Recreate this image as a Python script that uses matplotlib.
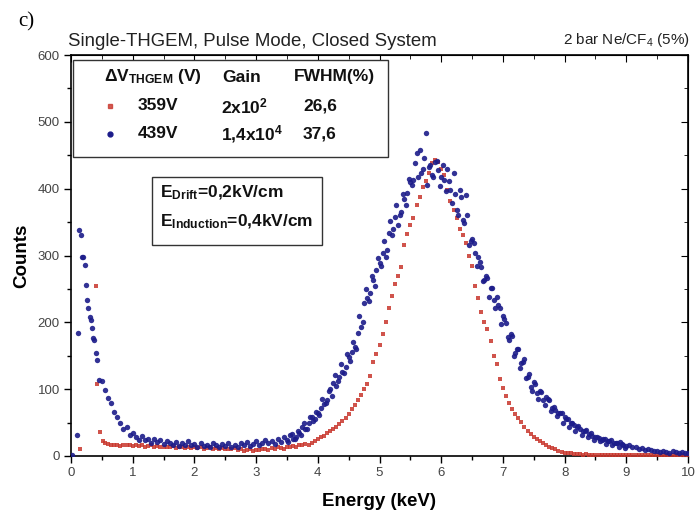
import numpy as np
import matplotlib
matplotlib.use('Agg')
import matplotlib.pyplot as plt
from matplotlib.patches import Rectangle
from matplotlib.ticker import MultipleLocator

plt.rcParams['font.family'] = ['Liberation Sans', 'DejaVu Sans']
plt.rcParams['mathtext.default'] = 'regular'

# ---- data ----
# 359 V, isolated points below 0.55 keV
red_low_e = [0.15, 0.40, 0.42, 0.47, 0.52]
red_low_c = [10, 254, 108, 36, 22]
# 359 V, 0.05 keV bins starting at 0.55 keV
red_start = 0.55
red_counts = [
    20, 18, 17, 16, 17, 15, 16, 17, 16, 15,
    16, 15, 17, 14, 15, 16, 14, 15, 13, 14,
    14, 13, 15, 12, 14, 13, 12, 14, 12, 13,
    12, 13, 11, 12, 13, 11, 12, 10, 12, 11,
    11, 10, 12, 9, 10, 8, 9, 10, 8, 9,
    9, 10, 11, 9, 12, 10, 13, 12, 11, 14,
    13, 15, 14, 17, 16, 18, 17, 20, 22, 25,
    28, 30, 34, 37, 40, 44, 48, 52, 57, 63,
    70, 76, 84, 92, 100, 108, 120, 140, 152, 166,
    183, 200, 222, 240, 258, 270, 283, 316, 332, 345,
    356, 375, 388, 402, 412, 424, 438, 443, 440, 430,
    420, 398, 382, 368, 356, 340, 331, 318, 300, 285,
    255, 236, 215, 200, 190, 172, 150, 138, 115, 102,
    90, 80, 70, 63, 57, 51, 44, 37, 33, 29,
    26, 22, 19, 16, 14, 12, 10, 8, 6, 5,
    4, 4, 3, 3, 3, 2, 3, 2, 2, 2,
    2, 2, 1, 2, 1, 2, 1, 1, 2, 1,
    1, 2, 1, 1, 1, 2, 1, 1, 1, 1,
    1, 1, 2, 1, 1, 1, 1, 1, 1, 1,
]

# 439 V, isolated points below 0.45 keV
blue_low_e = [0.02, 0.10, 0.11, 0.13, 0.16, 0.18, 0.20, 0.22, 0.24, 0.26,
              0.28, 0.30, 0.32, 0.34, 0.36, 0.38, 0.40, 0.42]
blue_low_c = [2, 31, 184, 338, 330, 298, 298, 286, 256, 234,
              221, 208, 204, 192, 177, 174, 154, 144]
# 439 V, 0.05 keV bins starting at 0.45 keV
blue_start = 0.45
blue_counts = [
    114, 112, 99, 87, 79, 66, 58, 49, 40, 43,
    31, 35, 28, 24, 30, 24, 26, 20, 25, 21,
    24, 18, 22, 19, 16, 21, 15, 19, 17, 22,
    16, 18, 14, 20, 15, 17, 13, 19, 16, 14,
    18, 15, 20, 14, 17, 13, 19, 16, 21, 15,
    18, 22, 16, 20, 24, 19, 23, 18, 26, 21,
    28, 24, 31, 26, 28, 35, 43, 40, 50, 58,
    55, 64, 72, 78, 84, 100, 109, 105, 118, 125,
    133, 148, 155, 163, 184, 193, 229, 236, 244, 263,
    278, 289, 304, 298, 334, 330, 358, 345, 365, 385,
    394, 410, 413, 454, 458, 430, 484, 433, 420, 440,
    428, 418, 413, 430, 398, 424, 368, 398, 353, 391,
    316, 325, 304, 298, 283, 263, 266, 251, 234, 238,
    221, 210, 199, 174, 180, 154, 160, 139, 145, 118,
    103, 110, 94, 98, 84, 88, 84, 72, 69, 64,
    64, 58, 55, 49, 46, 43, 40, 38, 39, 33,
    30, 28, 27, 24, 26, 22, 24, 20, 19, 21,
    17, 15, 16, 13, 14, 11, 12, 9, 10, 9,
    8, 7, 6, 8, 6, 5, 7, 6, 5, 6, 5, 4,
]
# 439 V, in-between bins from 3.525 keV (the blue data is twice as dense)
blue_mid_start = 3.525
blue_mid_counts = [
    21, 33, 25, 38, 32, 49, 41, 58, 52, 66,
    61, 86, 80, 98, 90, 121, 112, 137, 124, 152,
    142, 171, 160, 210, 200, 250, 232, 270, 255, 296,
    284, 322, 308, 352, 340, 375, 360, 392, 376, 415,
    405, 438, 418, 424, 446, 406, 436, 418, 442, 404,
    436, 396, 412, 378, 392, 360, 388, 348, 360, 322,
    318, 284, 290, 262, 270, 238, 252, 222, 226, 198,
    205, 178, 182, 150, 160, 132, 140, 116, 122, 98,
    108, 86, 96, 76, 86, 68, 74, 60, 64, 50,
    56, 44, 50, 38, 45, 32, 38, 28, 34, 24,
    29, 22, 26, 18, 23, 16, 20, 14, 18, 12,
]

red_e = list(red_low_e) + list(red_start + 0.05 * np.arange(len(red_counts)))
red_c = list(red_low_c) + red_counts
blue_e = (list(blue_low_e) + list(blue_start + 0.05 * np.arange(len(blue_counts)))
          + list(blue_mid_start + 0.05 * np.arange(len(blue_mid_counts))))
blue_c = list(blue_low_c) + blue_counts + blue_mid_counts

red_col = '#c8362c'
blue_col = '#1c1c8a'

fig = plt.figure(figsize=(6.96, 5.13), dpi=100)
fig.patch.set_facecolor('white')
ax = fig.add_axes([71 / 696, 1 - 456 / 513, 617 / 696, 401 / 513])

ax.scatter(red_e, red_c, s=10, marker='s', color=red_col, linewidths=0, alpha=0.85, zorder=3)
ax.scatter(blue_e, blue_c, s=15, marker='o', color=blue_col, linewidths=0, alpha=0.9, zorder=4)

ax.set_xlim(0, 10)
ax.set_ylim(0, 600)
ax.xaxis.set_major_locator(MultipleLocator(1))
ax.xaxis.set_minor_locator(MultipleLocator(0.5))
ax.yaxis.set_major_locator(MultipleLocator(100))
ax.yaxis.set_minor_locator(MultipleLocator(50))
ax.tick_params(which='major', direction='out', length=5, width=1, labelsize=9.5,
               labelcolor='#444444', pad=3)
ax.tick_params(which='minor', direction='out', length=3, width=1)
for s in ax.spines.values():
    s.set_linewidth(1.2)

# mirrored inward ticks on top and right
top = ax.secondary_xaxis('top')
top.xaxis.set_major_locator(MultipleLocator(1))
top.xaxis.set_minor_locator(MultipleLocator(0.5))
top.tick_params(which='major', direction='in', length=5, labeltop=False)
top.tick_params(which='minor', direction='in', length=3)
right = ax.secondary_yaxis('right')
right.yaxis.set_major_locator(MultipleLocator(100))
right.yaxis.set_minor_locator(MultipleLocator(50))
right.tick_params(which='major', direction='in', length=5, labelright=False)
right.tick_params(which='minor', direction='in', length=3)

ax.set_xlabel('Energy (keV)', fontsize=13.5, fontweight='bold', labelpad=10)
ax.set_ylabel('Counts', fontsize=13.5, fontweight='bold', labelpad=5)

# titles
fig.text(18 / 696, 1 - 22 / 513, 'c)', fontsize=15, family='Liberation Serif',
         ha='left', va='center')
fig.text(68 / 696, 1 - 41 / 513, 'Single-THGEM, Pulse Mode, Closed System',
         fontsize=13.4, color='#222222', ha='left', va='center')
fig.text(690 / 696, 1 - 40 / 513, '2 bar Ne/CF$_4$ (5%)',
         fontsize=11, color='#222222', ha='right', va='center')


def px(x, y):
    return x / 696, 1 - y / 513


# legend table box
x0, y0 = px(73, 157)
x1, y1 = px(388, 60)
fig.add_artist(Rectangle((x0, y0), x1 - x0, y1 - y0, transform=fig.transFigure,
                         facecolor='white', edgecolor='#333333', linewidth=1.0, zorder=5))
tk = dict(fontsize=12.5, fontweight='bold', color='#111111', va='center', zorder=6)
fig.text(*px(104, 77), r'$\Delta$V$_{\mathregular{THGEM}}$ (V)', ha='left', **tk)
fig.text(*px(242, 77), 'Gain', ha='center', **tk)
fig.text(*px(334, 77), 'FWHM(%)', ha='center', **tk)
fig.text(*px(158, 106), '359V', ha='center', **tk)
fig.text(*px(221, 106), r'2x10$^{\mathregular{2}}$', ha='left', **tk)
fig.text(*px(320, 106), '26,6', ha='center', **tk)
fig.text(*px(158, 134), '439V', ha='center', **tk)
fig.text(*px(221, 134), r'1,4x10$^{\mathregular{4}}$', ha='left', **tk)
fig.text(*px(320, 134), '37,6', ha='center', **tk)
fig.add_artist(plt.Line2D([110 / 696], [1 - 106 / 513], marker='s', markersize=3,
                          color=red_col, alpha=0.8, transform=fig.transFigure, zorder=6))
fig.add_artist(plt.Line2D([110 / 696], [1 - 134 / 513], marker='o', markersize=3.5,
                          color=blue_col, transform=fig.transFigure, zorder=6))

# field box
x0, y0 = px(152, 245)
x1, y1 = px(322, 177)
fig.add_artist(Rectangle((x0, y0), x1 - x0, y1 - y0, transform=fig.transFigure,
                         facecolor='white', edgecolor='#333333', linewidth=1.0, zorder=5))
fig.text(*px(160, 193), r'E$_{\mathregular{Drift}}$=0,2kV/cm', ha='left', **tk)
fig.text(*px(160, 222), r'E$_{\mathregular{Induction}}$=0,4kV/cm', ha='left', **tk)

fig.savefig('out.png', dpi=100, facecolor='white')
